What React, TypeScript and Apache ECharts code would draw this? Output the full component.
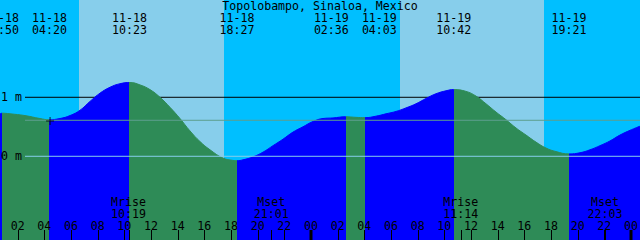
import { useEffect, useRef } from "react";
import * as echarts from "echarts";

// ---------- data (hours since 11-18 00:00 local, levels in metres) ----------
const title = "Topolobampo, Sinaloa, Mexico";
const viewStart = 0.675;
const viewEnd = 48.675;
const levelMin = -1.419;
const levelMax = 2.649;

const tideHours = [
  0.675, 0.825, 1.425, 2.55, 3.675, 4.35, 5.175, 5.925, 6.675, 7.425, 8.175, 8.925,
  9.675, 10.425, 11.175, 11.925, 12.675, 13.425, 14.175, 14.925, 15.675, 16.425,
  17.4, 18.15, 18.45, 18.9, 19.65, 20.4, 21.15, 21.9, 22.65, 23.4, 24.15, 24.9, 25.65,
  26.6, 27.375, 28.05, 28.875, 29.625, 30.375, 31.125, 31.875, 32.625, 33.375, 34.125,
  34.7, 35.625, 36.375, 37.125, 37.875, 38.625, 39.375, 40.125, 40.875, 41.625, 42.375,
  43.35, 44.175, 44.925, 45.675, 46.425, 47.175, 47.925, 48.675,
];
const tideLevels = [
  0.72, 0.73, 0.72, 0.69, 0.64, 0.62, 0.64, 0.69, 0.78, 0.93, 1.07, 1.17,
  1.23, 1.25, 1.21, 1.13, 1.0, 0.83, 0.64, 0.43, 0.25, 0.11,
  -0.03, -0.07, -0.075, -0.06, -0.01, 0.07, 0.18, 0.29, 0.41, 0.5, 0.59, 0.64, 0.65,
  0.67, 0.66, 0.655, 0.68, 0.72, 0.76, 0.82, 0.89, 0.98, 1.06, 1.11,
  1.13, 1.1, 1.02, 0.89, 0.75, 0.62, 0.48, 0.36, 0.24, 0.14, 0.08,
  0.04, 0.06, 0.11, 0.18, 0.26, 0.36, 0.44, 0.51,
];

const eventHours = [0.833, 4.333, 10.383, 18.45, 26.6, 28.05, 34.7, 43.35];
const eventKinds = ["H", "L", "H", "L", "H", "L", "H", "L"];
const eventDates = ["11-18", "11-18", "11-18", "11-18", "11-19", "11-19", "11-19", "11-19"];
const eventClock = ["00:50", "04:20", "10:23", "18:27", "02:36", "04:03", "10:42", "19:21"];

const sunriseHours = [6.6, 30.675];
const sunsetHours = [17.475, 41.475];

const moonHours = [10.317, 21.017, 35.233, 46.05];
const moonKinds = ["Mrise", "Mset", "Mrise", "Mset"];
const moonClock = ["10:19", "21:01", "11:14", "22:03"];

const hourTicks = [2, 4, 6, 8, 10, 12, 14, 16, 18, 20, 22, 24, 26, 28, 30, 32, 34, 36, 38, 40, 42, 44, 46, 48];
const hourLabels = ["02", "04", "06", "08", "10", "12", "14", "16", "18", "20", "22", "00",
  "02", "04", "06", "08", "10", "12", "14", "16", "18", "20", "22", "00"];

const levelTicks = [1, 0];
const levelTickLabels = ["1 m", "0 m"];
const meanLevel = 0.61;
const nowMark = [4.43, 0.6];

// ---------- styles ----------
const FONT_FAMILY = '"DejaVu Sans Mono", monospace';
const FONT_SIZE = 11.6;
const NIGHT = "#00BFFF";
const DAY = "#87CEEB";
const RISING = "#0000FF";
const FALLING = "#2E8B57";
const MEAN_LINE = "#5C9E8E";
const ZERO_LINE = "#87CEEB";
const REF_LINE_START = 2.55;
const LABEL_GAP_HOURS = 3.6;

function textEl(x: number, y: number, text: string, align: string = "center") {
  return {
    type: "text",
    x,
    y,
    style: {
      text,
      fill: "#000",
      textFill: "#000",
      font: `${FONT_SIZE}px ${FONT_FAMILY}`,
      fontSize: FONT_SIZE,
      fontFamily: FONT_FAMILY,
      align,
      verticalAlign: "middle",
      textAlign: align,
      textVerticalAlign: "middle",
    },
  };
}

function spreadLabels(hours: number[], minGap: number) {
  const out = hours.slice();
  for (let i = 1; i < out.length; i++) {
    const gap = out[i] - out[i - 1];
    if (gap < minGap) {
      const d = (minGap - gap) / 2;
      out[i - 1] -= d;
      out[i] += d;
    }
  }
  return out;
}

function buildOption() {
  const bands: number[][] = [];
  let cursor = viewStart - 1;
  for (let i = 0; i < sunriseHours.length; i++) {
    bands.push([cursor, sunriseHours[i], 0]);
    bands.push([sunriseHours[i], sunsetHours[i], 1]);
    cursor = sunsetHours[i];
  }
  bands.push([cursor, viewEnd + 1, 0]);

  const pieces: any[] = [];
  let start = 0;
  for (let i = 0; i < eventHours.length; i++) {
    pieces.push({ gte: start, lt: eventHours[i], color: eventKinds[i] === "H" ? RISING : FALLING });
    start = eventHours[i];
  }
  const lastKind = eventKinds[eventKinds.length - 1];
  pieces.push({ gte: start, lte: viewEnd + 5, color: lastKind === "H" ? FALLING : RISING });

  const labelHours = spreadLabels(eventHours, LABEL_GAP_HOURS);

  return {
    animation: false,
    title: {
      text: title,
      left: "center",
      top: 0,
      padding: 0,
      textStyle: { fontFamily: FONT_FAMILY, fontSize: FONT_SIZE, fontWeight: "normal", color: "#000" },
    },
    grid: { left: 0, right: 0, top: 0, bottom: 0 },
    xAxis: { type: "value", min: viewStart, max: viewEnd, show: false },
    yAxis: { type: "value", min: levelMin, max: levelMax, show: false },
    visualMap: {
      show: false,
      type: "piecewise",
      dimension: 0,
      seriesIndex: 2,
      pieces,
    },
    series: [
      {
        type: "custom",
        z: 1,
        silent: true,
        data: bands,
        renderItem: (params: any, api: any) => {
          const a = api.coord([api.value(0), 0]);
          const b = api.coord([api.value(1), 0]);
          const cs = params.coordSys;
          return {
            type: "rect",
            shape: { x: a[0], y: cs.y, width: b[0] - a[0], height: cs.height },
            style: { fill: api.value(2) ? DAY : NIGHT },
          };
        },
      },
      {
        type: "line",
        z: 2,
        silent: true,
        symbol: "none",
        data: [[REF_LINE_START, levelTicks[0]], [viewEnd, levelTicks[0]]],
        lineStyle: { color: "#000", width: 1 },
      },
      {
        type: "line",
        z: 3,
        silent: true,
        symbol: "none",
        smooth: 0.45,
        data: tideHours.map((h, i) => [h, tideLevels[i]]),
        lineStyle: { width: 1 },
        areaStyle: { opacity: 1, origin: "start" },
      },
      {
        type: "line",
        z: 4,
        silent: true,
        symbol: "none",
        data: [[REF_LINE_START, meanLevel], [viewEnd, meanLevel]],
        lineStyle: { color: MEAN_LINE, width: 1 },
      },
      {
        type: "line",
        z: 4,
        silent: true,
        symbol: "none",
        data: [[REF_LINE_START, levelTicks[1]], [viewEnd, levelTicks[1]]],
        lineStyle: { color: ZERO_LINE, width: 1 },
      },
      {
        type: "scatter",
        z: 5,
        silent: true,
        symbol: "path://M3.5,0H4.5V8H3.5ZM0,3.5H8V4.5H0Z",
        symbolSize: 8,
        itemStyle: { color: "#000" },
        data: [nowMark],
      },
      {
        // tide event labels (top)
        type: "custom",
        z: 6,
        silent: true,
        data: labelHours.map((h) => [h, 0]),
        renderItem: (params: any, api: any) => {
          const i = params.dataIndex;
          const x = api.coord([api.value(0), 0])[0];
          return {
            type: "group",
            children: [textEl(x, 17.5, eventDates[i]), textEl(x, 29.5, eventClock[i])],
          };
        },
      },
      {
        // moon events (bottom)
        type: "custom",
        z: 6,
        silent: true,
        data: moonHours.map((h) => [h, 0]),
        renderItem: (params: any, api: any) => {
          const i = params.dataIndex;
          const x = api.coord([api.value(0), 0])[0];
          const xr = Math.round(x) + 0.5;
          return {
            type: "group",
            children: [
              textEl(x, 202, moonKinds[i]),
              textEl(x, 214, moonClock[i]),
              { type: "line", shape: { x1: xr, y1: 230, x2: xr, y2: 240 }, style: { stroke: "#000", lineWidth: 1 } },
            ],
          };
        },
      },
      {
        // hour ticks and labels
        type: "custom",
        z: 6,
        silent: true,
        data: hourTicks.map((h) => [h, 0]),
        renderItem: (params: any, api: any) => {
          const i = params.dataIndex;
          const x = api.coord([api.value(0), 0])[0];
          const thick = hourLabels[i] === "00";
          const xr = thick ? Math.round(x) : Math.round(x) + 0.5;
          return {
            type: "group",
            children: [
              textEl(x, 225.5, hourLabels[i]),
              {
                type: "line",
                shape: { x1: xr, y1: 230, x2: xr, y2: 240 },
                style: { stroke: "#000", lineWidth: thick ? 3 : 1 },
              },
            ],
          };
        },
      },
      {
        // level labels (left)
        type: "custom",
        z: 6,
        silent: true,
        data: levelTicks.map((l) => [viewStart, l]),
        renderItem: (params: any, api: any) => {
          const i = params.dataIndex;
          const y = api.coord([viewStart, api.value(1)])[1];
          return textEl(1, y, levelTickLabels[i], "left");
        },
      },
    ],
  };
}

export default function App() {
  const ref = useRef<HTMLDivElement>(null);
  useEffect(() => {
    document.body.style.margin = "0";
    const chart = echarts.init(ref.current!, null, { renderer: "svg" });
    chart.setOption(buildOption() as any);
    return () => chart.dispose();
  }, []);
  return <div ref={ref} style={{ width: 640, height: 240 }} />;
}
